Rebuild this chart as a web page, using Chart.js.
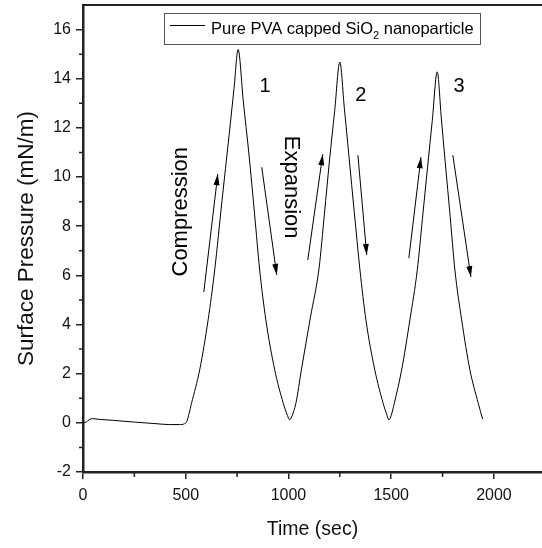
<!DOCTYPE html>
<html>
<head>
<meta charset="utf-8">
<script src="https://cdn.jsdelivr.net/npm/chart.js@4.4.1/dist/chart.umd.min.js"></script>
<style>
html, body { margin: 0; padding: 0; background: #fff; overflow: hidden; }
#wrap { width: 542px; height: 548px; position: relative; }
</style>
</head>
<body>
<div id="wrap"><canvas id="surfChart"></canvas></div>
<script>
// values (time in s, pressure in mN/m)
const timeSec = [
  0, 15, 30, 45, 80, 150, 250, 350, 420, 470, 495, 505,
  528, 568, 609, 641, 676, 711, 735, 755,
  780, 808, 835, 860, 890, 933, 975, 995, 1006,
  1018, 1036, 1063, 1107, 1149, 1175, 1200, 1225, 1250,
  1272, 1295, 1320, 1348, 1377, 1420, 1461, 1480, 1489,
  1500, 1515, 1551, 1591, 1627, 1652, 1677, 1700, 1724,
  1744, 1763, 1787, 1810, 1843, 1883, 1924, 1945
];
const pressure = [
  0, 0.03, 0.13, 0.17, 0.14, 0.1, 0.03, -0.03, -0.07, -0.07, -0.03, 0.05,
  0.79, 2.16, 4.19, 6.22, 9.0, 11.7, 13.6, 15.19,
  13.1, 10.9, 8.5, 6.22, 4.19, 2.16, 0.79, 0.3, 0.12,
  0.3, 0.79, 2.16, 4.3, 6.3, 8.5, 10.7, 12.7, 14.68,
  12.8, 10.8, 8.6, 6.22, 4.19, 2.16, 0.79, 0.3, 0.12,
  0.3, 0.79, 2.16, 4.19, 6.22, 8.3, 10.4, 12.3, 14.28,
  12.4, 10.6, 8.4, 6.22, 4.19, 2.16, 0.79, 0.15
];

const xMajor = [0, 500, 1000, 1500, 2000];
const xMinor = [250, 750, 1250, 1750];
const yMajor = [-2, 0, 2, 4, 6, 8, 10, 12, 14, 16];
const yMinor = [-1, 1, 3, 5, 7, 9, 11, 13, 15];

// cycle numbers
const cycleNames = ['1', '2', '3'];
const cycleX = [886, 1352, 1830];
const cycleY = [13.7, 13.3, 13.7];

// arrows (start -> end, head at end)
const arrowX0 = [588, 870, 1094, 1338, 1586, 1800];
const arrowY0 = [5.32, 10.40, 6.62, 10.89, 6.70, 10.89];
const arrowX1 = [656, 943, 1167, 1381, 1645, 1888];
const arrowY1 = [10.12, 6.02, 10.93, 6.83, 10.81, 5.93];

// rotated words
const noteText = ['Compression', 'Expansion'];
const noteX = [476, 1012];
const noteY = [8.59, 9.59];
const noteAngle = [-90, 90];

const FONT = "'Liberation Sans', Arial, sans-serif";

const points = timeSec.map((t, i) => ({ x: t, y: pressure[i] }));

const extras = {
  id: 'extras',
  afterDraw(chart) {
    const c = chart.ctx;
    const xs = chart.scales.x, ys = chart.scales.y;
    const area = chart.chartArea;
    c.save();

    // top frame line
    c.strokeStyle = '#222';
    c.lineWidth = 2;
    c.beginPath();
    c.moveTo(area.left, area.top);
    c.lineTo(chart.width, area.top);
    c.stroke();

    // minor ticks
    c.lineWidth = 1.5;
    c.beginPath();
    xMinor.forEach(v => {
      const px = xs.getPixelForValue(v);
      c.moveTo(px, area.bottom);
      c.lineTo(px, area.bottom + 5);
    });
    yMinor.forEach(v => {
      const py = ys.getPixelForValue(v);
      c.moveTo(area.left, py);
      c.lineTo(area.left - 4, py);
    });
    c.stroke();

    // arrows
    c.strokeStyle = '#000';
    c.fillStyle = '#000';
    c.lineWidth = 1;
    arrowX0.forEach((v, i) => {
      const x0 = xs.getPixelForValue(v), y0 = ys.getPixelForValue(arrowY0[i]);
      const x1 = xs.getPixelForValue(arrowX1[i]), y1 = ys.getPixelForValue(arrowY1[i]);
      const a = Math.atan2(y1 - y0, x1 - x0);
      c.beginPath();
      c.moveTo(x0, y0);
      c.lineTo(x1, y1);
      c.stroke();
      const L = 11, W = 3;
      c.beginPath();
      c.moveTo(x1, y1);
      c.lineTo(x1 - L * Math.cos(a) + W * Math.sin(a), y1 - L * Math.sin(a) - W * Math.cos(a));
      c.lineTo(x1 - L * Math.cos(a) - W * Math.sin(a), y1 - L * Math.sin(a) + W * Math.cos(a));
      c.closePath();
      c.fill();
    });

    // cycle numbers
    c.font = '20px ' + FONT;
    c.textAlign = 'center';
    c.textBaseline = 'middle';
    cycleNames.forEach((s, i) => {
      c.fillText(s, xs.getPixelForValue(cycleX[i]), ys.getPixelForValue(cycleY[i]));
    });

    // rotated notes
    c.font = '22px ' + FONT;
    noteText.forEach((s, i) => {
      c.save();
      c.translate(xs.getPixelForValue(noteX[i]), ys.getPixelForValue(noteY[i]));
      c.rotate(noteAngle[i] * Math.PI / 180);
      c.fillText(s, 0, 0);
      c.restore();
    });

    // legend box
    const bx = area.left + 81, by = area.top + 8, bw = 316, bh = 31;
    c.strokeStyle = '#555';
    c.lineWidth = 1;
    c.strokeRect(bx + 0.5, by + 0.5, bw, bh);
    c.strokeStyle = '#000';
    c.beginPath();
    c.moveTo(bx + 6, by + 12.5);
    c.lineTo(bx + 41, by + 12.5);
    c.stroke();
    c.textAlign = 'left';
    c.textBaseline = 'alphabetic';
    c.font = '16.5px ' + FONT;
    let tx = bx + 47;
    const base = by + 21;
    const partA = 'Pure PVA capped SiO';
    c.fillText(partA, tx, base);
    tx += c.measureText(partA).width;
    c.font = '11px ' + FONT;
    c.fillText('2', tx, base + 5);
    tx += c.measureText('2').width;
    c.font = '16.5px ' + FONT;
    c.fillText(' nanoparticle', tx, base);

    c.restore();
  }
};

new Chart(document.getElementById('surfChart').getContext('2d'), {
  type: 'line',
  data: {
    datasets: [{
      label: 'Pure PVA capped SiO2 nanoparticle',
      data: points,
      borderColor: '#000',
      borderWidth: 1,
      pointRadius: 0,
      cubicInterpolationMode: 'monotone',
      fill: false
    }]
  },
  options: {
    responsive: true,
    maintainAspectRatio: false,
    animation: false,
    layout: { padding: { top: 5, left: 0, right: 0, bottom: 0 } },
    plugins: {
      legend: { display: false },
      tooltip: { enabled: false }
    },
    scales: {
      x: {
        type: 'linear',
        min: 0,
        max: 2234,
        afterBuildTicks: s => { s.ticks = xMajor.map(v => ({ value: v })); },
        afterFit: s => { s.height = 76; s.paddingLeft = 0; s.paddingRight = 0; },
        border: { display: true, color: '#222', width: 2.5 },
        grid: { drawOnChartArea: false, drawTicks: true, tickLength: 7, color: '#222', lineWidth: 1.5 },
        ticks: { color: '#111', padding: 7, font: { family: FONT, size: 16 }, maxRotation: 0,
                 callback: v => String(v) },
        title: { display: true, text: 'Time (sec)', color: '#111', font: { family: FONT, size: 19.5 }, padding: { top: 0, bottom: 7 } }
      },
      y: {
        type: 'linear',
        min: -2,
        max: 17,
        afterBuildTicks: s => { s.ticks = yMajor.map(v => ({ value: v })); },
        afterFit: s => { s.width = 83; s.paddingTop = 0; s.paddingBottom = 0; },
        border: { display: true, color: '#222', width: 2.5 },
        grid: { drawOnChartArea: false, drawTicks: true, tickLength: 7, color: '#222', lineWidth: 1.5 },
        ticks: { color: '#111', padding: 5, font: { family: FONT, size: 16 }, callback: v => String(v) },
        title: { display: true, text: 'Surface Pressure (mN/m)', color: '#111', font: { family: FONT, size: 22.5 }, padding: { top: 13, bottom: 0 } }
      }
    }
  },
  plugins: [extras]
});
</script>
</body>
</html>
